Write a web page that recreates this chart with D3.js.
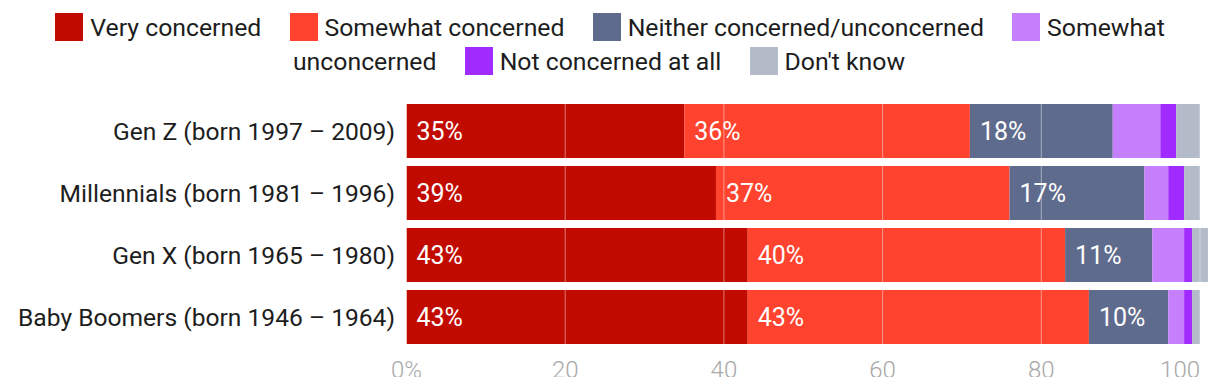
<!DOCTYPE html>
<html>
<head>
<meta charset="utf-8">
<script src="https://cdn.jsdelivr.net/npm/d3@7"></script>
<style>
  body { margin: 0; background: #fff; font-family: Roboto, "Noto Sans", sans-serif; }
  #wrap { position: relative; width: 1220px; height: 386px; overflow: hidden; }
  #legend { position: absolute; left: 0; top: 11px; width: 1220px; text-align: center;
            font-size: 24.8px; line-height: 34px; color: #1d1d1d; }
  .item { margin-right: 22px; }
  .item:last-child { margin-right: 20px; }
  .sw { display: inline-block; width: 28px; height: 28px; margin-right: 7px; vertical-align: -5px; }
  svg { position: absolute; left: 0; top: 0; }
</style>
</head>
<body>
<div id="wrap">
  <div id="legend"></div>
  <svg></svg>
</div>
<script>
var w = 1220;
var h = 377; // the original cuts the tick labels off here

// generations, top to bottom
var groups = [
  "Gen Z (born 1997 – 2009)",
  "Millennials (born 1981 – 1996)",
  "Gen X (born 1965 – 1980)",
  "Baby Boomers (born 1946 – 1964)"
];

var seriesNames = [
  "Very concerned",
  "Somewhat concerned",
  "Neither concerned/unconcerned",
  "Somewhat unconcerned",
  "Not concerned at all",
  "Don't know"
];

var colors = ["#c20b00", "#ff432e", "#5f6b8c", "#c67ffd", "#a12bff", "#b3bac8"];

// percent values, one array per series (same order as groups)
var veryConcerned     = [35, 39, 43, 43];
var somewhatConcerned = [36, 37, 40, 43];
var neither           = [18, 17, 11, 10];
var somewhatUnconc    = [6, 3, 4, 2];
var notAtAll          = [2, 2, 1, 1];
var dontKnow          = [3, 2, 2, 1];

var ticks = [0, 20, 40, 60, 80, 100];

var seriesValues = [veryConcerned, somewhatConcerned, neither, somewhatUnconc, notAtAll, dontKnow];

// legend as inline html so the long label wraps like the original
var legend = d3.select("#legend");
seriesNames.forEach(function(name, i) {
  var it = legend.append("span").attr("class", "item");
  it.append("span").attr("class", "sw").style("background", colors[i]);
  it.append("span").text(name);
  legend.append("span").text(" ");
});

var svg = d3.select("svg")
    .attr("width", w)
    .attr("height", h);

var x = d3.scaleLinear()
    .domain([0, 100])
    .range([406.5, 1200]);

var y = d3.scaleBand()
    .domain(groups)
    .range([104, 344])
    .paddingInner(0.129)
    .paddingOuter(0);

// stack the series per group
var rows = groups.map(function(g, gi) {
  var row = { group: g };
  seriesNames.forEach(function(s, si) { row[s] = seriesValues[si][gi]; });
  return row;
});

var stacked = d3.stack().keys(seriesNames)(rows);

var layers = svg.selectAll("g.layer")
    .data(stacked)
    .enter()
    .append("g")
    .attr("class", "layer")
    .attr("fill", function(d, i) { return colors[i]; });

layers.selectAll("rect")
    .data(function(d) { return d; })
    .enter()
    .append("rect")
    .attr("x", function(d) { return x(d[0]); })
    .attr("y", function(d) { return y(d.data.group); })
    .attr("width", function(d) { return x(d[1]) - x(d[0]); })
    .attr("height", y.bandwidth());

// value labels (only the bigger segments get one)
layers.selectAll("text")
    .data(function(d) { return d.filter(function(p) { return p[1] - p[0] >= 10; }); })
    .enter()
    .append("text")
    .attr("x", function(d) { return x(d[0]) + 10; })
    .attr("y", function(d) { return y(d.data.group) + y.bandwidth() / 2; })
    .attr("dy", "0.35em")
    .attr("fill", "#fff")
    .style("font-size", "25px")
    .text(function(d) { return (d[1] - d[0]) + "%"; });

// grid lines sit on top of the bars
svg.append("g")
    .selectAll("line")
    .data(ticks)
    .enter()
    .append("line")
    .attr("x1", function(d) { return x(d); })
    .attr("x2", function(d) { return x(d); })
    .attr("y1", y.range()[0])
    .attr("y2", y.range()[1])
    .attr("stroke", "#fff")
    .attr("stroke-opacity", 0.45)
    .attr("stroke-width", 1);

// category labels
svg.append("g")
    .selectAll("text")
    .data(groups)
    .enter()
    .append("text")
    .attr("x", 395)
    .attr("y", function(d) { return y(d) + y.bandwidth() / 2; })
    .attr("dy", "0.35em")
    .attr("text-anchor", "end")
    .attr("fill", "#1d1d1d")
    .style("font-size", "24.6px")
    .text(function(d) { return d; });

// x axis tick labels
svg.append("g")
    .selectAll("text")
    .data(ticks)
    .enter()
    .append("text")
    .attr("x", function(d) { return x(d); })
    .attr("y", 378)
    .attr("text-anchor", function(d, i) { return i === ticks.length - 1 ? "end" : "middle"; })
    .attr("fill", "#a8a8a8")
    .style("font-size", "24px")
    .style("font-weight", 300)
    .text(function(d, i) { return i === 0 ? d + "%" : d; });
</script>
</body>
</html>
